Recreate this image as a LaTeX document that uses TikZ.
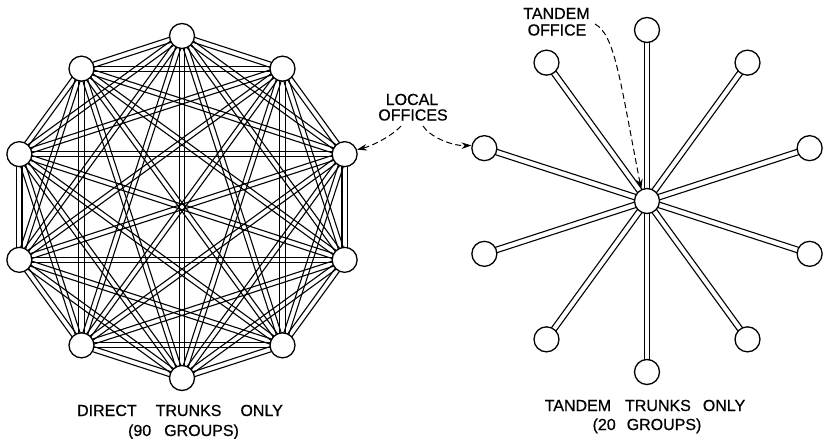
\documentclass[tikz,border=0pt]{standalone}
\usepackage{fontspec}
\setmainfont{Liberation Sans}
\newfontfamily\lettering{Liberation Sans}[FakeBold=0.6]
\usetikzlibrary{calc,backgrounds,arrows.meta}
\begin{document}
\begin{tikzpicture}[x=1pt,y=-1pt,
  office/.style={circle,draw,line width=1.3pt,fill=white,minimum size=25pt,inner sep=0pt},
  trunk/.style={line width=1.1pt},
  callout/.style={line width=1pt,dash pattern=on 6pt off 3.5pt,-{Stealth[length=10pt,width=6.5pt]}},
  caption/.style={font=\lettering\fontsize{16}{17}\selectfont,inner sep=0pt,anchor=base}]
\useasboundingbox (0,0) rectangle (828,439);

% direct trunking: ten offices on a decagon
\foreach \k in {0,...,9} {
  \pgfmathsetmacro\ang{90+36*\k}
  \node[office] (L\k) at ({182+171*cos(\ang)},{207-171*sin(\ang)}) {};
}
% tandem trunking: ten offices around a tandem office
\node[office] (T) at (647,201) {};
\foreach \k in {0,...,9} {
  \pgfmathsetmacro\ang{90+36*\k}
  \node[office] (R\k) at ({647+171*cos(\ang)},{201-171*sin(\ang)}) {};
}

\begin{pgfonlayer}{background}
  \fill[white] (0,0) rectangle (828,439);
  % every pair of offices joined by a two-line trunk group
  \foreach \i in {0,...,8} {
    \pgfmathtruncatemacro\jstart{\i+1}
    \foreach \j in {\jstart,...,9} {
      \draw[trunk] ($(L\i.center)!2.6pt!90:(L\j.center)$) -- ($(L\j.center)!2.6pt!-90:(L\i.center)$);
      \draw[trunk] ($(L\i.center)!2.6pt!-90:(L\j.center)$) -- ($(L\j.center)!2.6pt!90:(L\i.center)$);
    }
  }
  % each office joined only to the tandem office
  \foreach \k in {0,...,9} {
    \draw[trunk] ($(T.center)!2.8pt!90:(R\k.center)$) -- ($(R\k.center)!2.8pt!-90:(T.center)$);
    \draw[trunk] ($(T.center)!2.8pt!-90:(R\k.center)$) -- ($(R\k.center)!2.8pt!90:(T.center)$);
  }
\end{pgfonlayer}

% labels
\node[caption] (loc1) at (412,105) {LOCAL};
\node[caption] (loc2) at (413,120.5) {OFFICES};
\node[caption] (tan1) at (556.5,19) {TANDEM};
\node[caption] (tan2) at (557,35.5) {OFFICE};
\node[caption] (cap1) at (180,416) {DIRECT\hspace{19pt}TRUNKS\hspace{19pt}ONLY};
\node[caption] (cap2) at (183.5,436) {(90\hspace{13pt}GROUPS)};
\node[caption] (cap3) at (645,411) {TANDEM\hspace{14pt}TRUNKS\hspace{12pt}ONLY};
\node[caption] (cap4) at (647,430) {(20\hspace{11pt}GROUPS)};

% callouts
\coordinate (la) at (401,126);
\coordinate (lb) at (423,126);
\coordinate (ta) at (595,24);
\draw[callout] (la) .. controls (392,136) and (372,146) .. (L8.20);
\draw[callout] (lb) .. controls (430,137) and (452,146) .. (R2.168);
\draw[callout] (ta) .. controls (615,35) and (620,80) .. (T.116);
\end{tikzpicture}
\end{document}
